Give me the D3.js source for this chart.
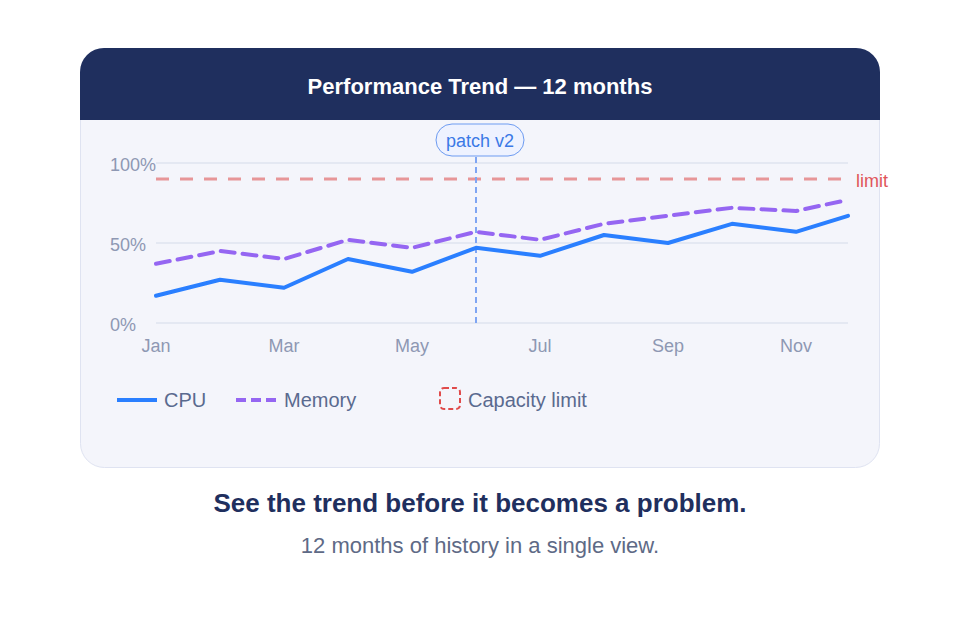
<!DOCTYPE html>
<html>
<head>
<meta charset="utf-8">
<script src="https://cdn.jsdelivr.net/npm/d3@7"></script>
<style>
  body { margin: 0; background: #ffffff; }
  svg { display: block; font-family: "Liberation Sans", Arial, sans-serif; }
</style>
</head>
<body>
<div id="chart"></div>
<script>
// data
const months = ["Jan", "Feb", "Mar", "Apr", "May", "Jun", "Jul", "Aug", "Sep", "Oct", "Nov", "Dec"];
const cpu = [17, 27, 22, 40, 32, 47, 42, 55, 50, 62, 57, 67];
const memory = [37, 45, 40, 52, 47, 57, 52, 62, 67, 72, 70, 77];
const limitValue = 90;
const yTicks = [0, 50, 100];
const xTickLabels = ["Jan", "Mar", "May", "Jul", "Sep", "Nov"];
const annotation = { month: "Jun", label: "patch v2" };

const width = 960, height = 640;

const svg = d3.select("#chart").append("svg")
    .attr("width", width)
    .attr("height", height);

// card
const card = { x: 80, y: 48, w: 800, h: 420, r: 24, header: 72 };

svg.append("rect")
    .attr("x", card.x + 0.5)
    .attr("y", card.y + 0.5)
    .attr("width", card.w - 1)
    .attr("height", card.h - 1)
    .attr("rx", card.r)
    .attr("fill", "#f4f5fb")
    .attr("stroke", "#dfe3f1")
    .attr("stroke-width", 1);

// header with rounded top only
const hp = d3.path();
hp.moveTo(card.x, card.y + card.header);
hp.lineTo(card.x, card.y + card.r);
hp.arcTo(card.x, card.y, card.x + card.r, card.y, card.r);
hp.lineTo(card.x + card.w - card.r, card.y);
hp.arcTo(card.x + card.w, card.y, card.x + card.w, card.y + card.r, card.r);
hp.lineTo(card.x + card.w, card.y + card.header);
hp.closePath();
svg.append("path").attr("d", hp.toString()).attr("fill", "#1f2f5e");

svg.append("text")
    .attr("x", width / 2)
    .attr("y", 94)
    .attr("text-anchor", "middle")
    .attr("fill", "#ffffff")
    .attr("font-size", 22)
    .attr("font-weight", "bold")
    .text("Performance Trend \u2014 12 months");

// plot area
const margin = { left: 156, top: 163 };
const innerW = 692, innerH = 160;

const g = svg.append("g").attr("transform", `translate(${margin.left},${margin.top})`);

const x = d3.scalePoint()
    .domain(months)
    .range([0, 704]);

const y = d3.scaleLinear()
    .domain([0, 100])
    .range([innerH, 0]);

// grid
g.selectAll("line.grid")
    .data(yTicks)
    .join("line")
    .attr("class", "grid")
    .attr("x1", 0)
    .attr("x2", innerW)
    .attr("y1", d => y(d))
    .attr("y2", d => y(d))
    .attr("stroke", "#e4e8f2")
    .attr("stroke-width", 2);

g.selectAll("text.ytick")
    .data(yTicks)
    .join("text")
    .attr("class", "ytick")
    .attr("x", -46)
    .attr("y", d => y(d) + 8)
    .attr("fill", "#8e98b3")
    .attr("font-size", 18)
    .text(d => d + "%");

g.selectAll("text.xtick")
    .data(xTickLabels)
    .join("text")
    .attr("class", "xtick")
    .attr("x", d => x(d))
    .attr("y", innerH + 29)
    .attr("text-anchor", "middle")
    .attr("fill", "#8e98b3")
    .attr("font-size", 18)
    .text(d => d);

// capacity limit
g.append("line")
    .attr("x1", 0)
    .attr("x2", innerW)
    .attr("y1", y(limitValue))
    .attr("y2", y(limitValue))
    .attr("stroke", "#e06262")
    .attr("stroke-opacity", 0.65)
    .attr("stroke-width", 3)
    .attr("stroke-dasharray", "13,11");

g.append("text")
    .attr("x", innerW + 8)
    .attr("y", y(limitValue) + 8)
    .attr("fill", "#e0555a")
    .attr("font-size", 18)
    .text("limit");

// annotation
const ax = x(annotation.month);
g.append("line")
    .attr("x1", ax)
    .attr("x2", ax)
    .attr("y1", -6)
    .attr("y2", innerH)
    .attr("stroke", "#7fa5f3")
    .attr("stroke-width", 2)
    .attr("stroke-dasharray", "6,4");

g.append("rect")
    .attr("x", ax + 4 - 44)
    .attr("y", -39)
    .attr("width", 88)
    .attr("height", 32)
    .attr("rx", 16)
    .attr("fill", "#eef2ff")
    .attr("stroke", "#6d9bf1")
    .attr("stroke-width", 1);

g.append("text")
    .attr("x", ax + 4)
    .attr("y", -16)
    .attr("text-anchor", "middle")
    .attr("fill", "#3b79e6")
    .attr("font-size", 18)
    .text(annotation.label);

// lines (last point pinned to the plot edge)
const line = d3.line()
    .x((d, i) => Math.min(x(months[i]), innerW))
    .y(d => y(d));

g.append("path")
    .datum(memory)
    .attr("d", line)
    .attr("fill", "none")
    .attr("stroke", "#9566f2")
    .attr("stroke-width", 4)
    .attr("stroke-linecap", "round")
    .attr("stroke-linejoin", "round")
    .attr("stroke-dasharray", "14,8");

g.append("path")
    .datum(cpu)
    .attr("d", line)
    .attr("fill", "none")
    .attr("stroke", "#2a7fff")
    .attr("stroke-width", 4)
    .attr("stroke-linecap", "round")
    .attr("stroke-linejoin", "round");

// legend
const legend = svg.append("g").attr("transform", "translate(117,400)");
const lc = "#5a6a8f";

legend.append("line").attr("x1", 0).attr("x2", 40)
    .attr("stroke", "#2a7fff").attr("stroke-width", 4);
legend.append("text").attr("x", 47).attr("y", 7)
    .attr("fill", lc).attr("font-size", 20).text("CPU");

legend.append("line").attr("x1", 119).attr("x2", 159)
    .attr("stroke", "#9566f2").attr("stroke-width", 4)
    .attr("stroke-dasharray", "10,5");
legend.append("text").attr("x", 167).attr("y", 7)
    .attr("fill", lc).attr("font-size", 20).text("Memory");

legend.append("rect").attr("x", 323).attr("y", -12)
    .attr("width", 20).attr("height", 21).attr("rx", 4)
    .attr("fill", "none").attr("stroke", "#e04b4b").attr("stroke-width", 2)
    .attr("stroke-dasharray", "5,3");
legend.append("text").attr("x", 351).attr("y", 7)
    .attr("fill", lc).attr("font-size", 20).text("Capacity limit");

// caption
svg.append("text")
    .attr("x", width / 2)
    .attr("y", 512)
    .attr("text-anchor", "middle")
    .attr("fill", "#1f2f5e")
    .attr("font-size", 26)
    .attr("font-weight", "bold")
    .text("See the trend before it becomes a problem.");

svg.append("text")
    .attr("x", width / 2)
    .attr("y", 553)
    .attr("text-anchor", "middle")
    .attr("fill", "#5e6a86")
    .attr("font-size", 22)
    .text("12 months of history in a single view.");
</script>
</body>
</html>
